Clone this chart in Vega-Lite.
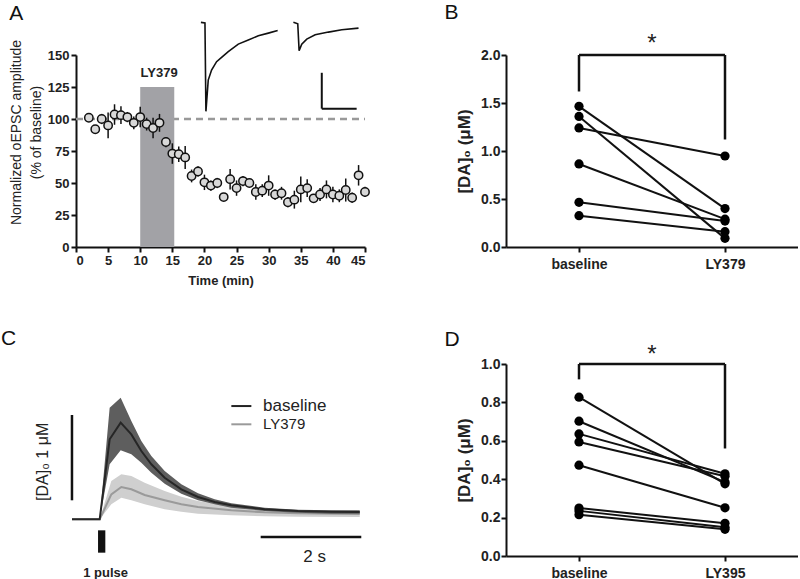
{
  "$schema": "https://vega.github.io/schema/vega-lite/v6.json",
  "padding": {"left": 1, "top": 2, "right": 0, "bottom": 0},
  "background": "white",
  "config": {
    "view": {"stroke": null},
    "font": "Liberation Sans",
    "axis": {"domainColor": "#111", "domainWidth": 2, "tickColor": "#111", "tickWidth": 2, "tickSize": 5, "labelColor": "#222", "labelFontWeight": "bold", "labelFontSize": 13, "labelFont": "Liberation Sans", "titleFont": "Liberation Sans", "titleColor": "#222", "grid": false, "labelPadding": 2},
    "title": {"fontSize": 21, "fontWeight": "normal", "anchor": "start", "frame": "bounds", "font": "Liberation Sans", "color": "#111"}
  },
  "datasets": {
    "a_points": [
      {"x": 2, "y": 101, "err": 3}, {"x": 3, "y": 92, "err": 3}, {"x": 4, "y": 100, "err": 4}, {"x": 5, "y": 95, "err": 10},
      {"x": 6, "y": 103.5, "err": 8}, {"x": 7, "y": 103, "err": 7}, {"x": 8, "y": 101.5, "err": 4}, {"x": 9, "y": 97, "err": 5},
      {"x": 10, "y": 101.5, "err": 8}, {"x": 11, "y": 96, "err": 5}, {"x": 12, "y": 93, "err": 8}, {"x": 13, "y": 97, "err": 7},
      {"x": 14, "y": 82, "err": 4}, {"x": 15, "y": 73, "err": 8}, {"x": 16, "y": 72.5, "err": 6}, {"x": 17, "y": 70, "err": 9},
      {"x": 18, "y": 55.5, "err": 5}, {"x": 19, "y": 59, "err": 4}, {"x": 20, "y": 50.5, "err": 6}, {"x": 21, "y": 48, "err": 4},
      {"x": 22, "y": 50, "err": 4}, {"x": 23, "y": 39, "err": 3}, {"x": 24, "y": 53, "err": 8}, {"x": 25, "y": 46, "err": 6},
      {"x": 26, "y": 51.5, "err": 4}, {"x": 27, "y": 50, "err": 3}, {"x": 28, "y": 43, "err": 6}, {"x": 29, "y": 44, "err": 5},
      {"x": 30, "y": 48, "err": 8}, {"x": 31, "y": 41, "err": 4}, {"x": 32, "y": 42, "err": 5}, {"x": 33, "y": 35, "err": 4},
      {"x": 34, "y": 37, "err": 7}, {"x": 35, "y": 45, "err": 10}, {"x": 36, "y": 46, "err": 7}, {"x": 37, "y": 38, "err": 3},
      {"x": 38, "y": 41, "err": 5}, {"x": 39, "y": 45, "err": 7}, {"x": 40, "y": 41, "err": 6}, {"x": 41, "y": 40, "err": 5},
      {"x": 42, "y": 44.5, "err": 9}, {"x": 43, "y": 38.5, "err": 4}, {"x": 44, "y": 56, "err": 8}, {"x": 45, "y": 43, "err": 4}
    ],
    "a_traces": [
      {"trace": "baseline", "x": 19.45, "y": 175.5}, {"trace": "baseline", "x": 20.08, "y": 175.0}, {"trace": "baseline", "x": 20.23, "y": 106.0},
      {"trace": "baseline", "x": 20.59, "y": 130.4}, {"trace": "baseline", "x": 21.11, "y": 138.2}, {"trace": "baseline", "x": 21.89, "y": 144.8},
      {"trace": "baseline", "x": 22.67, "y": 148.2}, {"trace": "baseline", "x": 23.71, "y": 152.6}, {"trace": "baseline", "x": 25.27, "y": 158.5},
      {"trace": "baseline", "x": 26.83, "y": 161.8}, {"trace": "baseline", "x": 28.39, "y": 165.0}, {"trace": "baseline", "x": 29.95, "y": 167.1},
      {"trace": "baseline", "x": 31.4, "y": 169.2},
      {"trace": "LY379", "x": 33.85, "y": 175.5}, {"trace": "LY379", "x": 34.53, "y": 174.4}, {"trace": "LY379", "x": 34.74, "y": 153.4},
      {"trace": "LY379", "x": 35.15, "y": 158.5}, {"trace": "LY379", "x": 35.93, "y": 162.4}, {"trace": "LY379", "x": 37.24, "y": 165.8},
      {"trace": "LY379", "x": 39.31, "y": 167.9}, {"trace": "LY379", "x": 41.39, "y": 169.7}, {"trace": "LY379", "x": 43.99, "y": 171.0}
    ],
    "b_pairs": [
      {"pair": 1, "x": 0, "y": 1.465}, {"pair": 1, "x": 1, "y": 0.40},
      {"pair": 2, "x": 0, "y": 1.36}, {"pair": 2, "x": 1, "y": 0.09},
      {"pair": 3, "x": 0, "y": 1.24}, {"pair": 3, "x": 1, "y": 0.948},
      {"pair": 4, "x": 0, "y": 0.865}, {"pair": 4, "x": 1, "y": 0.29},
      {"pair": 5, "x": 0, "y": 0.465}, {"pair": 5, "x": 1, "y": 0.27},
      {"pair": 6, "x": 0, "y": 0.326}, {"pair": 6, "x": 1, "y": 0.16}
    ],
    "d_pairs": [
      {"pair": 1, "x": 0, "y": 0.827}, {"pair": 1, "x": 1, "y": 0.376},
      {"pair": 2, "x": 0, "y": 0.702}, {"pair": 2, "x": 1, "y": 0.385},
      {"pair": 3, "x": 0, "y": 0.636}, {"pair": 3, "x": 1, "y": 0.428},
      {"pair": 4, "x": 0, "y": 0.594}, {"pair": 4, "x": 1, "y": 0.415},
      {"pair": 5, "x": 0, "y": 0.473}, {"pair": 5, "x": 1, "y": 0.251},
      {"pair": 6, "x": 0, "y": 0.25}, {"pair": 6, "x": 1, "y": 0.17},
      {"pair": 7, "x": 0, "y": 0.235}, {"pair": 7, "x": 1, "y": 0.15},
      {"pair": 8, "x": 0, "y": 0.215}, {"pair": 8, "x": 1, "y": 0.139}
    ],
    "c_traces": [
      {"cond": "LY379", "x": -0.551, "y": 0, "lo": 0, "hi": 0},
      {"cond": "LY379", "x": 0.0, "y": 0, "lo": 0, "hi": 0},
      {"cond": "LY379", "x": 0.231, "y": 0.293, "lo": 0.176, "hi": 0.449},
      {"cond": "LY379", "x": 0.43, "y": 0.379, "lo": 0.254, "hi": 0.527},
      {"cond": "LY379", "x": 0.629, "y": 0.352, "lo": 0.223, "hi": 0.508},
      {"cond": "LY379", "x": 0.894, "y": 0.285, "lo": 0.176, "hi": 0.43},
      {"cond": "LY379", "x": 1.292, "y": 0.223, "lo": 0.117, "hi": 0.332},
      {"cond": "LY379", "x": 1.623, "y": 0.176, "lo": 0.09, "hi": 0.266},
      {"cond": "LY379", "x": 1.954, "y": 0.145, "lo": 0.066, "hi": 0.215},
      {"cond": "LY379", "x": 2.617, "y": 0.105, "lo": 0.047, "hi": 0.152},
      {"cond": "LY379", "x": 3.28, "y": 0.082, "lo": 0.035, "hi": 0.117},
      {"cond": "LY379", "x": 3.943, "y": 0.07, "lo": 0.031, "hi": 0.098},
      {"cond": "LY379", "x": 5.169, "y": 0.062, "lo": 0.027, "hi": 0.09},
      {"cond": "baseline", "x": -0.551, "y": 0, "lo": 0, "hi": 0},
      {"cond": "baseline", "x": 0.0, "y": 0, "lo": 0, "hi": 0},
      {"cond": "baseline", "x": 0.198, "y": 0.938, "lo": 0.645, "hi": 1.309},
      {"cond": "baseline", "x": 0.417, "y": 1.133, "lo": 0.809, "hi": 1.426},
      {"cond": "baseline", "x": 0.629, "y": 0.996, "lo": 0.762, "hi": 1.153},
      {"cond": "baseline", "x": 0.828, "y": 0.801, "lo": 0.664, "hi": 0.918},
      {"cond": "baseline", "x": 1.027, "y": 0.645, "lo": 0.547, "hi": 0.742},
      {"cond": "baseline", "x": 1.292, "y": 0.488, "lo": 0.418, "hi": 0.566},
      {"cond": "baseline", "x": 1.623, "y": 0.352, "lo": 0.301, "hi": 0.41},
      {"cond": "baseline", "x": 1.954, "y": 0.262, "lo": 0.223, "hi": 0.305},
      {"cond": "baseline", "x": 2.286, "y": 0.203, "lo": 0.176, "hi": 0.234},
      {"cond": "baseline", "x": 2.617, "y": 0.164, "lo": 0.137, "hi": 0.187},
      {"cond": "baseline", "x": 3.28, "y": 0.117, "lo": 0.098, "hi": 0.137},
      {"cond": "baseline", "x": 3.943, "y": 0.098, "lo": 0.078, "hi": 0.113},
      {"cond": "baseline", "x": 4.606, "y": 0.09, "lo": 0.066, "hi": 0.105},
      {"cond": "baseline", "x": 5.169, "y": 0.086, "lo": 0.066, "hi": 0.105}
    ]
  },
  "columns": 2,
  "spacing": {"row": 117, "column": 141},
  "bounds": "flush",
  "concat": [
    {
      "width": 289, "height": 192,
      "title": {"text": "A", "offset": -5, "dx": 0},
      "encoding": {
        "x": {"field": "x", "type": "quantitative", "scale": {"domain": [0, 45], "nice": false, "zero": false},
              "axis": {"values": [0, 5, 10, 15, 20, 25, 30, 35, 40, 45], "title": "Time (min)", "titleFontWeight": "bold", "titleFontSize": 13, "titlePadding": 7}},
        "y": {"field": "y", "type": "quantitative", "scale": {"domain": [0, 150], "nice": false},
              "axis": {"values": [0, 25, 50, 75, 100, 125, 150], "title": ["Normalized oEPSC amplitude", "(% of baseline)"], "titleFontWeight": "normal", "titleFontSize": 14, "titleLineHeight": 20, "titleY": 77, "titlePadding": 4}}
      },
      "layer": [
        {"data": {"values": [{"x": 0, "y": 100, "x2": 45, "y2": 100}]},
         "mark": {"type": "rule", "color": "#999", "strokeWidth": 2.5, "strokeDash": [7, 5]},
         "encoding": {"x2": {"field": "x2"}, "y2": {"field": "y2"}}},
        {"data": {"values": [{"x": 10, "x2": 15.3, "y": 0, "y2": 125}]},
         "mark": {"type": "rect", "color": "#a2a2a6"},
         "encoding": {"x2": {"field": "x2"}, "y2": {"field": "y2"}}},
        {"data": {"values": [{"x": 12.95, "y": 135.6, "label": "LY379"}]},
         "mark": {"type": "text", "fontWeight": "bold", "fontSize": 13, "color": "#222", "baseline": "middle"},
         "encoding": {"text": {"field": "label"}}},
        {"data": {"name": "a_points"},
         "mark": {"type": "errorbar", "ticks": false, "color": "#111", "thickness": 1.5},
         "encoding": {"yError": {"field": "err"}}},
        {"data": {"name": "a_points"},
         "mark": {"type": "circle", "fill": "#d8d8d8", "stroke": "#111", "strokeWidth": 1.5, "size": 70, "opacity": 1}},
        {"data": {"name": "a_traces"},
         "mark": {"type": "line", "color": "#111", "strokeWidth": 1.6},
         "encoding": {"detail": {"field": "trace"}}},
        {"data": {"values": [{"x": 38.27, "y": 136.1, "x2": 38.27, "y2": 108.1}, {"x": 38.27, "y": 108.1, "x2": 43.7, "y2": 108.1}]},
         "mark": {"type": "rule", "color": "#111", "strokeWidth": 2},
         "encoding": {"x2": {"field": "x2"}, "y2": {"field": "y2"}}}
      ]
    },
    {
      "width": 292, "height": 192,
      "title": {"text": "B", "offset": 9, "dx": -11},
      "encoding": {
        "x": {"field": "x", "type": "quantitative", "scale": {"domain": [-0.5, 1.5], "nice": false, "zero": false},
              "axis": {"values": [0, 1], "labelExpr": "datum.value === 0 ? 'baseline' : 'LY379'", "title": null, "labelFontSize": 14, "labelPadding": 5}},
        "y": {"field": "y", "type": "quantitative", "scale": {"domain": [0, 2], "nice": false},
              "axis": {"values": [0, 0.5, 1, 1.5, 2], "format": ".1f", "title": "[DA]₀ (μM)", "titleFontSize": 17, "titleFontWeight": "bold", "labelFontSize": 14, "labelPadding": 1, "titlePadding": 7}}
      },
      "layer": [
        {"data": {"name": "b_pairs"}, "mark": {"type": "line", "color": "#111", "strokeWidth": 2}, "encoding": {"detail": {"field": "pair"}}},
        {"data": {"name": "b_pairs"}, "mark": {"type": "circle", "color": "#000", "size": 85, "opacity": 1}},
        {"data": {"values": [{"x": 0, "y": 1.62, "x2": 0, "y2": 2}, {"x": 0, "y": 2, "x2": 1, "y2": 2}, {"x": 1, "y": 2, "x2": 1, "y2": 1.12}]},
         "mark": {"type": "rule", "color": "#111", "strokeWidth": 2.5}, "encoding": {"x2": {"field": "x2"}, "y2": {"field": "y2"}}},
        {"data": {"values": [{"x": 0.5, "y": 2.04, "label": "*"}]},
         "mark": {"type": "text", "fontSize": 24, "color": "#222", "baseline": "alphabetic"}, "encoding": {"text": {"field": "label"}}}
      ]
    },
    {
      "width": 289, "height": 192,
      "title": {"text": "C", "offset": 15, "dx": -34},
      "encoding": {
        "x": {"field": "x", "type": "quantitative", "scale": {"domain": [-0.471, 5.274], "nice": false, "zero": false}, "axis": null},
        "y": {"field": "y", "type": "quantitative", "scale": {"domain": [-0.43, 1.821], "nice": false, "zero": false}, "axis": null}
      },
      "layer": [
        {"data": {"name": "c_traces"}, "transform": [{"filter": "datum.cond === 'LY379'"}],
         "mark": {"type": "area", "color": "#cfcfcf", "opacity": 1},
         "encoding": {"y": {"field": "lo", "type": "quantitative", "scale": {"domain": [-0.43, 1.821], "nice": false, "zero": false}, "axis": null}, "y2": {"field": "hi"}}},
        {"data": {"name": "c_traces"}, "transform": [{"filter": "datum.cond === 'LY379'"}],
         "mark": {"type": "line", "color": "#9a9a9a", "strokeWidth": 2}},
        {"data": {"name": "c_traces"}, "transform": [{"filter": "datum.cond === 'baseline'"}],
         "mark": {"type": "area", "color": "#5e5e5e", "opacity": 1},
         "encoding": {"y": {"field": "lo", "type": "quantitative", "scale": {"domain": [-0.43, 1.821], "nice": false, "zero": false}, "axis": null}, "y2": {"field": "hi"}}},
        {"data": {"name": "c_traces"}, "transform": [{"filter": "datum.cond === 'baseline'"}],
         "mark": {"type": "line", "color": "#262626", "strokeWidth": 2}},
        {"data": {"values": [{"cond": "baseline", "x": 2.617, "x2": 3.015, "y": 1.328, "y2": 1.328}, {"cond": "LY379", "x": 2.617, "x2": 3.015, "y": 1.114, "y2": 1.114}]},
         "mark": {"type": "rule", "strokeWidth": 2},
         "encoding": {"x2": {"field": "x2"}, "y2": {"field": "y2"},
                      "color": {"field": "cond", "type": "nominal", "scale": {"domain": ["baseline", "LY379"], "range": ["#222222", "#9a9a9a"]}, "legend": null}}},
        {"data": {"values": [{"x": 3.247, "y": 1.328, "label": "baseline"}]},
         "mark": {"type": "text", "fontSize": 17, "align": "left", "baseline": "middle", "color": "#222"}, "encoding": {"text": {"field": "label"}}},
        {"data": {"values": [{"x": 3.247, "y": 1.114, "label": "LY379"}]},
         "mark": {"type": "text", "fontSize": 15, "align": "left", "baseline": "middle", "color": "#222"}, "encoding": {"text": {"field": "label"}}},
        {"data": {"values": [{"x": 3.2, "x2": 5.2, "y": -0.207, "y2": -0.207}, {"x": -0.551, "x2": -0.551, "y": 0.223, "y2": 1.223}]},
         "mark": {"type": "rule", "color": "#111", "strokeWidth": 2.5}, "encoding": {"x2": {"field": "x2"}, "y2": {"field": "y2"}}},
        {"data": {"values": [{"x": -0.033, "x2": 0.112, "y": -0.129, "y2": -0.391}]},
         "mark": {"type": "rect", "color": "#111"}, "encoding": {"x2": {"field": "x2"}, "y2": {"field": "y2"}}},
        {"data": {"values": [{"x": 4.274, "y": -0.438, "label": "2 s"}]},
         "mark": {"type": "text", "fontSize": 17, "baseline": "middle", "color": "#222"}, "encoding": {"text": {"field": "label"}}},
        {"data": {"values": [{"x": 0.118, "y": -0.63, "label": "1 pulse"}]},
         "mark": {"type": "text", "fontSize": 13, "fontWeight": "bold", "baseline": "middle", "color": "#222"}, "encoding": {"text": {"field": "label"}}},
        {"data": {"values": [{"x": -1.127, "y": 0.674, "label": "[DA]₀ 1 μM"}]},
         "mark": {"type": "text", "fontSize": 16, "angle": 270, "baseline": "middle", "color": "#222"}, "encoding": {"text": {"field": "label"}}}
      ]
    },
    {
      "width": 292, "height": 192,
      "title": {"text": "D", "offset": -7, "dx": -11},
      "encoding": {
        "x": {"field": "x", "type": "quantitative", "scale": {"domain": [-0.5, 1.5], "nice": false, "zero": false},
              "axis": {"values": [0, 1], "labelExpr": "datum.value === 0 ? 'baseline' : 'LY395'", "title": null, "labelFontSize": 14, "labelPadding": 5}},
        "y": {"field": "y", "type": "quantitative", "scale": {"domain": [0, 1], "nice": false},
              "axis": {"values": [0, 0.2, 0.4, 0.6, 0.8, 1], "format": ".1f", "title": "[DA]₀ (μM)", "titleFontSize": 17, "titleFontWeight": "bold", "labelFontSize": 14, "labelPadding": 1, "titlePadding": 7}}
      },
      "layer": [
        {"data": {"name": "d_pairs"}, "mark": {"type": "line", "color": "#111", "strokeWidth": 2}, "encoding": {"detail": {"field": "pair"}}},
        {"data": {"name": "d_pairs"}, "mark": {"type": "circle", "color": "#000", "size": 85, "opacity": 1}},
        {"data": {"values": [{"x": 0, "y": 0.92, "x2": 0, "y2": 1}, {"x": 0, "y": 1, "x2": 1, "y2": 1}, {"x": 1, "y": 1, "x2": 1, "y2": 0.56}]},
         "mark": {"type": "rule", "color": "#111", "strokeWidth": 2.5}, "encoding": {"x2": {"field": "x2"}, "y2": {"field": "y2"}}},
        {"data": {"values": [{"x": 0.5, "y": 1.011, "label": "*"}]},
         "mark": {"type": "text", "fontSize": 24, "color": "#222", "baseline": "alphabetic"}, "encoding": {"text": {"field": "label"}}}
      ]
    }
  ]
}
